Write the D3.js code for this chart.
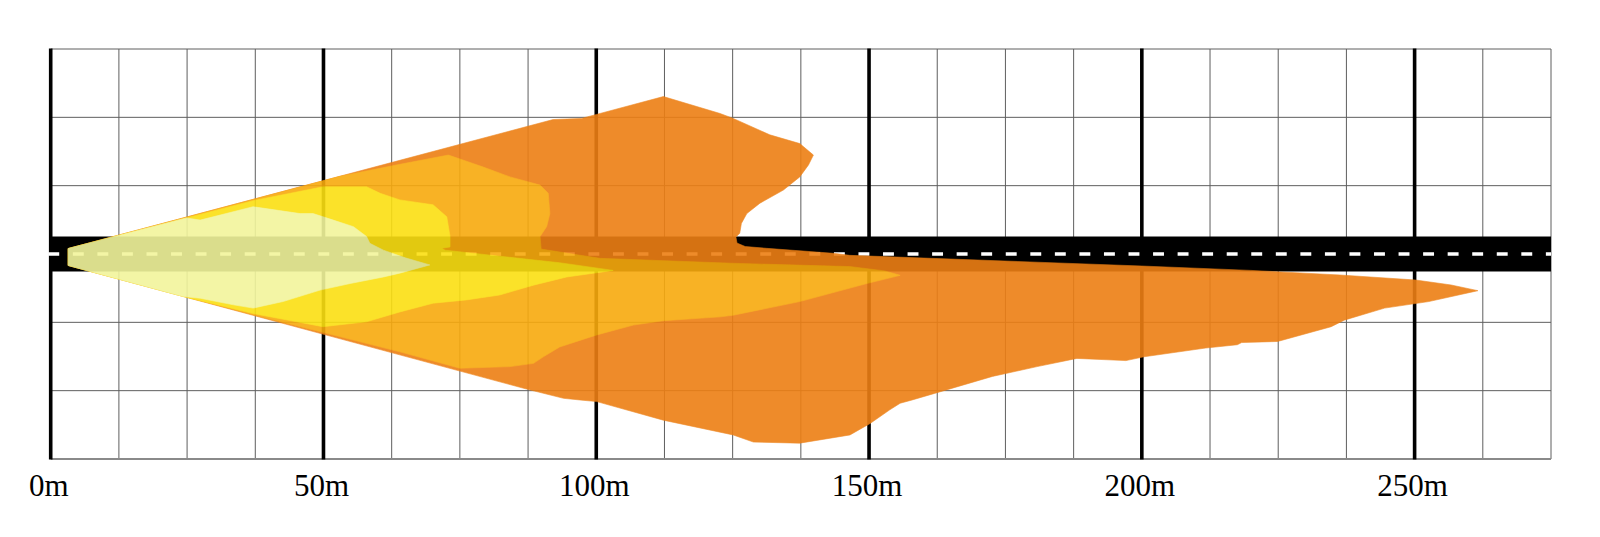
<!DOCTYPE html>
<html>
<head>
<meta charset="utf-8">
<script src="https://cdn.jsdelivr.net/npm/d3@7"></script>
<style>
  html, body { margin: 0; padding: 0; background: #ffffff; }
  svg { display: block; }
</style>
</head>
<body>
<svg id="chart" width="1600" height="537"></svg>
<script>
// ---------- data (metres: x = distance ahead, y = lateral offset, + = left) ----------
const distanceTicks = [0, 50, 100, 150, 200, 250];
const tickLabels = ["0m", "50m", "100m", "150m", "200m", "250m"];
const gridStepX = 12.5;
const gridStepY = 12.5;
const roadHalfWidth = 3.2;

// isolux zones, outermost first
const zoneNames = ["orange", "lightOrange", "yellow", "lightYellow"];

const orangeZone = [
  [3.2, 1.0], [92.1, 24.6], [97.3, 24.8], [112.3, 28.8], [122.7, 25.7], [125.1, 24.8],
  [131.8, 21.8], [137.3, 20.2], [139.8, 18.1], [138.9, 16.3], [137.3, 14.1], [134.3, 11.7],
  [130.0, 9.3], [127.6, 7.4], [126.6, 5.6], [126.3, 3.8], [125.6, 3.1], [125.8, 2.0],
  [127.3, 1.37], [131.2, 1.04], [143.4, 0.13], [146.5, -0.25], [200, -2.2], [220, -3.0],
  [236.3, -3.84], [250.2, -4.76], [256.7, -5.67], [261.6, -6.71],
  [252.6, -8.7], [244.5, -9.9], [237.1, -12.1], [234.7, -13.3], [224.9, -16.0],
  [218.3, -16.2], [217.5, -16.6], [211.7, -17.2], [200.4, -18.8], [197.1, -19.5],
  [188.1, -19.1], [180.8, -20.6], [172.6, -22.4], [162.0, -25.5], [157.9, -26.7],
  [155.7, -27.3], [153.8, -28.5], [150.2, -31.0], [146.5, -33.1], [137.3, -34.6],
  [128.8, -34.4], [125.1, -33.1], [112.3, -30.4], [100.1, -27.0], [97.0, -26.7],
  [94.0, -26.4], [87.2, -24.7], [3.2, -2.1]
];

const lightOrangeZone = [
  [3.2, 1.0], [53.0, 14.2], [64.0, 16.4], [72.9, 18.1], [79.3, 15.9], [84.2, 14.1],
  [89.7, 12.6], [91.2, 11.1], [91.5, 7.4], [90.9, 5.0], [89.7, 3.2], [89.9, 0.9],
  [100.7, -0.8], [125.1, -1.7], [146.5, -2.3], [152.9, -3.1], [155.7, -3.9],
  [149.6, -5.4], [137.3, -8.7], [125.1, -11.2], [122.7, -11.5], [112.3, -12.2],
  [106.8, -13.0], [100.1, -14.8], [93.3, -17.0], [90.3, -18.8], [88.5, -20.0],
  [84.2, -20.6], [75.0, -20.9], [64.0, -17.9], [37.8, -11.3], [3.2, -2.1]
];

const yellowZone = [
  [3.2, 1.0], [37.1, 9.75], [49.9, 12.3], [57.9, 12.3], [60.4, 11.1], [64.0, 9.9],
  [70.1, 9.0], [72.6, 6.8], [73.2, 3.2], [73.2, 1.3], [71.7, 1.04], [72.3, 0.7],
  [82.3, -0.4], [93.3, -1.6], [103.1, -3.0],
  [94.6, -4.2], [88.5, -5.7], [82.3, -7.5], [76.2, -8.4], [70.1, -9.0], [64.0, -10.6],
  [57.9, -12.4], [49.9, -13.3], [37.1, -10.9], [24.6, -7.86], [3.2, -2.1]
];

const lightYellowZone = [
  [3.2, 1.0], [24.9, 6.6], [27.4, 6.2], [37.1, 8.65], [45.7, 7.4], [48.1, 7.4],
  [51.8, 6.2], [55.5, 5.0], [57.9, 3.2], [58.5, 1.96], [61.0, 0.7], [65.0, -0.7],
  [69.5, -2.0], [64.0, -3.5], [61.0, -4.2], [54.9, -5.4], [49.4, -6.6], [42.6, -8.7],
  [37.1, -9.9], [33.5, -9.3], [27.4, -8.1], [24.3, -7.78], [3.2, -2.1]
];

const zoneColors = ["#ED7F14", "#F8AA0E", "#FBDF12", "#F2F59C"];
const zones = [orangeZone, lightOrangeZone, yellowZone, lightYellowZone];

// ---------- scales ----------
const svg = d3.select("#chart");
const x = d3.scaleLinear().domain([0, 275]).range([50.7, 1551]);
const y = d3.scaleLinear().domain([-37.5, 37.5]).range([459, 49]);

// ---------- grid ----------
const gx = d3.range(0, 275 + 0.001, gridStepX);
const gy = d3.range(-37.5, 37.5 + 0.001, gridStepY);

const grid = svg.append("g").attr("class", "grid");
grid.selectAll("line.v").data(gx).join("line")
  .attr("class", "v")
  .attr("x1", d => x(d)).attr("x2", d => x(d))
  .attr("y1", y(37.5)).attr("y2", y(-37.5))
  .attr("stroke", "#5e5e5e").attr("stroke-width", 1);
grid.selectAll("line.h").data(gy).join("line")
  .attr("class", "h")
  .attr("x1", x(0)).attr("x2", x(275))
  .attr("y1", d => y(d)).attr("y2", d => y(d))
  .attr("stroke", d => d === -37.5 ? "#8a8a8a" : "#5e5e5e")
  .attr("stroke-width", d => d === -37.5 ? 2 : 1);

// thick distance lines
grid.selectAll("line.major").data(distanceTicks).join("line")
  .attr("class", "major")
  .attr("x1", d => x(d)).attr("x2", d => x(d))
  .attr("y1", y(37.5) - 0.5).attr("y2", y(-37.5) + 0.5)
  .attr("stroke", "#000").attr("stroke-width", 3.6);

// ---------- road ----------
svg.append("rect")
  .attr("x", x(0)).attr("y", y(roadHalfWidth))
  .attr("width", x(275) - x(0))
  .attr("height", y(-roadHalfWidth) - y(roadHalfWidth))
  .attr("fill", "#000");

const dashLen = x(2.0) - x(0);
const gapLen = x(4.5) - x(2.0);
svg.append("line")
  .attr("x1", x(0) - 2.4).attr("x2", x(275))
  .attr("y1", y(0)).attr("y2", y(0))
  .attr("stroke", "#fff").attr("stroke-width", 3.6)
  .attr("stroke-dasharray", `${dashLen} ${gapLen}`);

// ---------- beam zones ----------
const line = d3.line().x(d => x(d[0])).y(d => y(d[1])).curve(d3.curveLinear);
const beams = svg.append("g").attr("opacity", 0.9);
beams.selectAll("path").data(zones).join("path")
  .attr("class", (d, i) => zoneNames[i])
  .attr("d", d => line(d) + "Z")
  .attr("fill", (d, i) => zoneColors[i])
  .attr("stroke", (d, i) => zoneColors[i])
  .attr("stroke-width", 0.6)
  .attr("stroke-linejoin", "round");

// ---------- axis labels ----------
svg.append("g").selectAll("text").data(distanceTicks).join("text")
  .attr("x", d => x(d) - 2)
  .attr("y", 496)
  .attr("text-anchor", "middle")
  .attr("font-family", "'Liberation Serif', 'Times New Roman', serif")
  .attr("font-size", 31)
  .attr("fill", "#000")
  .text((d, i) => tickLabels[i]);
</script>
</body>
</html>
